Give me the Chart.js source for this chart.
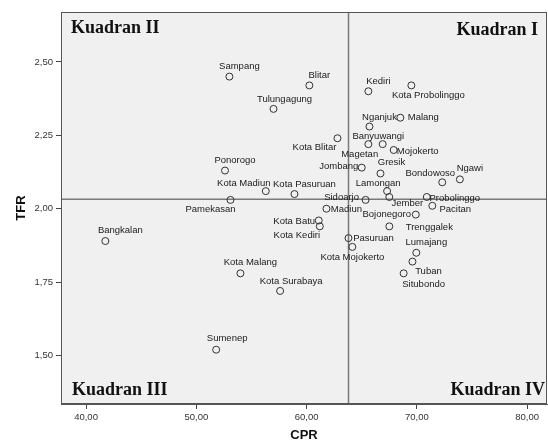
<!DOCTYPE html>
<html>
<head>
<meta charset="utf-8">
<script src="https://cdn.jsdelivr.net/npm/chart.js@4.4.1/dist/chart.umd.min.js"></script>
<style>
  html, body { margin: 0; padding: 0; background: #fff; }
  canvas { display: block; }
</style>
</head>
<body>
<canvas id="chart" width="548" height="443"></canvas>
<script>
// --- Data ---
const names = [
  "Sampang", "Tulungagung", "Ponorogo", "Kota Madiun", "Pamekasan",
  "Blitar", "Kediri", "Kota Probolinggo", "Malang", "Nganjuk",
  "Kota Blitar", "Banyuwangi", "Magetan", "Mojokerto", "Jombang",
  "Gresik", "Bondowoso", "Ngawi", "Kota Pasuruan", "Lamongan",
  "Jember", "Sidoarjo", "Probolinggo", "Pacitan", "Madiun",
  "Bojonegoro", "Kota Batu", "Kota Kediri", "Trenggalek", "Pasuruan",
  "Kota Mojokerto", "Lumajang", "Tuban", "Situbondo", "Kota Surabaya",
  "Bangkalan", "Kota Malang", "Sumenep"
];
const cpr = [
  53.0, 57.0, 52.6, 56.3, 53.1,
  60.25, 65.6, 69.5, 68.5, 65.7,
  62.8, 65.6, 66.9, 67.9, 65.0,
  66.7, 72.3, 73.9, 58.9, 67.3,
  67.5, 65.35, 70.9, 71.4, 61.8,
  69.9, 61.1, 61.2, 67.5, 63.8,
  64.15, 69.95, 69.6, 68.8, 57.6,
  41.75, 54.0, 51.8
];
const tfr = [
  2.45, 2.34, 2.13, 2.06, 2.03,
  2.42, 2.40, 2.42, 2.31, 2.28,
  2.24, 2.22, 2.22, 2.20, 2.14,
  2.12, 2.09, 2.10, 2.05, 2.06,
  2.04, 2.03, 2.04, 2.01, 2.00,
  1.98, 1.96, 1.94, 1.94, 1.90,
  1.87, 1.85, 1.82, 1.78, 1.72,
  1.89, 1.78, 1.52
];
const xTicks = [40, 50, 60, 70, 80];
const yTicks = [1.5, 1.75, 2.0, 2.25, 2.5];
const meanCPR = 63.8;
const meanTFR = 2.032;
const quadrants = ["Kuadran I", "Kuadran II", "Kuadran III", "Kuadran IV"];

// --- Label placement (pixel offsets of label centre from its point) ---
const labelOffsets = {
  "Sampang": [10, -10], "Tulungagung": [11, -10], "Ponorogo": [10, -10],
  "Kota Madiun": [-22, -8], "Pamekasan": [-20, 9], "Blitar": [10, -10],
  "Kediri": [10, -10], "Kota Probolinggo": [17, 10], "Malang": [23, 0],
  "Nganjuk": [10, -9], "Kota Blitar": [-23, 9.5], "Banyuwangi": [10, -8],
  "Magetan": [-23, 10], "Mojokerto": [24, 1], "Jombang": [-23, -1],
  "Gresik": [11, -11], "Bondowoso": [-12, -9], "Ngawi": [10, -11],
  "Kota Pasuruan": [10, -10], "Lamongan": [-9, -8], "Jember": [18, 6],
  "Sidoarjo": [-24, -3], "Probolinggo": [28, 1], "Pacitan": [23, 4],
  "Madiun": [20, 1], "Bojonegoro": [-29, 0], "Kota Batu": [-24.5, 0.5],
  "Kota Kediri": [-23, 9], "Trenggalek": [40, 1], "Pasuruan": [25, 0.5],
  "Kota Mojokerto": [0, 10], "Lumajang": [10, -10], "Tuban": [16, 10],
  "Situbondo": [20, 11], "Kota Surabaya": [11, -10], "Bangkalan": [15, -11],
  "Kota Malang": [10, -11], "Sumenep": [11, -11]
};

const sans = "'Liberation Sans', Arial, sans-serif";
const fmt = v => v.toFixed(2).replace(".", ",");

// --- Plugins ---
const plotBox = {
  id: "plotBox",
  beforeDatasetsDraw(chart) {
    const { ctx, chartArea: a } = chart;
    ctx.save();
    ctx.fillStyle = "#f0f0f0";
    ctx.fillRect(a.left, a.top, a.right - a.left, a.bottom - a.top);
    // mean lines
    const x = chart.scales.x.getPixelForValue(meanCPR);
    const y = chart.scales.y.getPixelForValue(meanTFR);
    ctx.strokeStyle = "#7a7a7a";
    ctx.lineWidth = 1.5;
    ctx.beginPath();
    ctx.moveTo(x, a.top); ctx.lineTo(x, a.bottom);
    ctx.moveTo(a.left, y); ctx.lineTo(a.right, y);
    ctx.stroke();
    // frame
    ctx.strokeStyle = "#555";
    ctx.lineWidth = 1;
    ctx.strokeRect(a.left + 0.5, a.top + 0.5, a.right - a.left - 1, a.bottom - a.top - 1);
    ctx.restore();
  },
  afterDatasetsDraw(chart) {
    const { ctx, chartArea: a } = chart;
    const meta = chart.getDatasetMeta(0);
    ctx.save();
    ctx.font = "9.5px " + sans;
    ctx.fillStyle = "#1a1a1a";
    ctx.textAlign = "center";
    ctx.textBaseline = "middle";
    meta.data.forEach((pt, i) => {
      const off = labelOffsets[names[i]] || [0, -10];
      ctx.fillText(names[i], pt.x + off[0], pt.y + off[1]);
    });
    // quadrant captions
    ctx.font = "bold 18px 'Liberation Serif', 'Times New Roman', serif";
    ctx.fillStyle = "#111";
    ctx.textBaseline = "alphabetic";
    ctx.textAlign = "right";
    ctx.fillText(quadrants[0], a.right - 9, a.top + 23);
    ctx.fillText(quadrants[3], a.right - 2, a.bottom - 9);
    ctx.textAlign = "left";
    ctx.fillText(quadrants[1], a.left + 10, a.top + 21);
    ctx.fillText(quadrants[2], a.left + 11, a.bottom - 9);
    ctx.restore();
  }
};

// --- Chart ---
new Chart(document.getElementById("chart"), {
  type: "scatter",
  data: {
    datasets: [{
      data: cpr.map((c, i) => ({ x: c, y: tfr[i] })),
      pointRadius: 3.5,
      pointHoverRadius: 3.5,
      borderWidth: 1,
      borderColor: "#333",
      backgroundColor: "rgba(0,0,0,0)"
    }]
  },
  options: {
    responsive: false,
    animation: false,
    events: [],
    layout: { autoPadding: false, padding: { top: 12, right: 1, left: 0, bottom: 0 } },
    plugins: { legend: { display: false }, tooltip: { enabled: false } },
    scales: {
      x: {
        type: "linear",
        min: 37.73,
        max: 81.8,
        afterBuildTicks: axis => { axis.ticks = xTicks.map(v => ({ value: v })); },
        afterFit: axis => { axis.height = 39; axis.paddingLeft = 0; axis.paddingRight = 0; },
        ticks: { callback: fmt, color: "#333", font: { size: 9.5, family: sans }, maxRotation: 0 },
        grid: { drawOnChartArea: false, tickLength: 5, color: "#444" },
        border: { display: true, color: "#555" },
        title: { display: true, text: "CPR", color: "#111", font: { size: 13, weight: "bold", family: sans }, padding: { top: 0, bottom: 0 } }
      },
      y: {
        type: "linear",
        min: 1.335,
        max: 2.67,
        afterBuildTicks: axis => { axis.ticks = yTicks.map(v => ({ value: v })); },
        afterFit: axis => { axis.width = 61; axis.paddingTop = 0; axis.paddingBottom = 0; },
        ticks: { callback: fmt, color: "#333", font: { size: 9.5, family: sans } },
        grid: { drawOnChartArea: false, tickLength: 5, color: "#444" },
        border: { display: true, color: "#555" },
        title: { display: true, text: "TFR", color: "#111", font: { size: 13, weight: "bold", family: sans }, padding: { top: 14, bottom: 0 } }
      }
    }
  },
  plugins: [plotBox]
});
</script>
</body>
</html>
